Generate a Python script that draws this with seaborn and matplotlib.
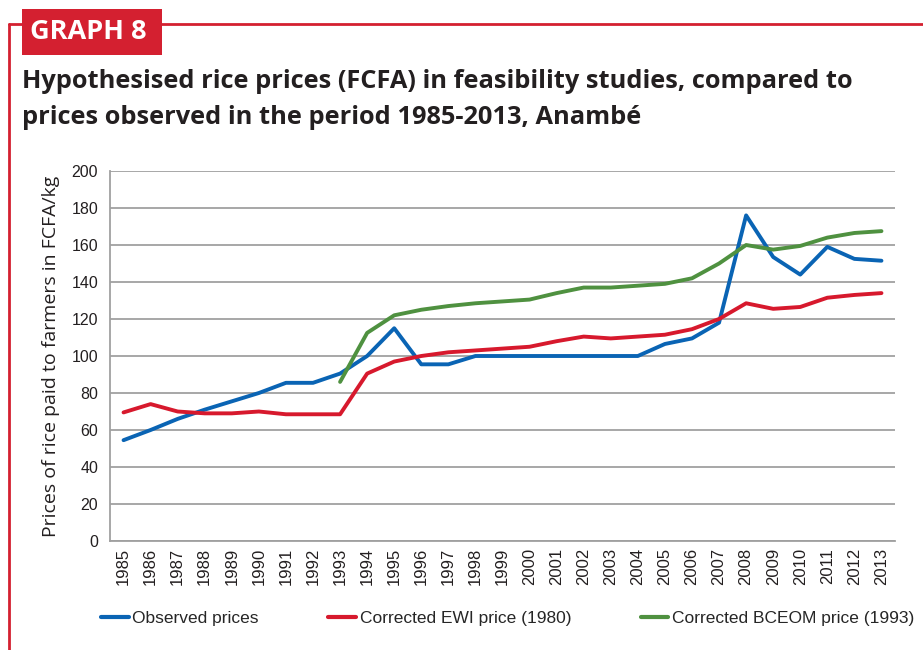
import numpy as np
import pandas as pd
import matplotlib
matplotlib.use("Agg")
import matplotlib.pyplot as plt
import seaborn as sns
from matplotlib.patches import Rectangle
from matplotlib.lines import Line2D

# ----------------------------------------------------
# Data
# ----------------------------------------------------
years = list(range(1985, 2014))

observed = [54.5, 60, 66, 71, 75.5, 80, 85.5, 85.5, 90.5, 100,
            115, 95.5, 95.5, 100, 100, 100, 100, 100, 100, 100,
            106.5, 109.5, 118, 176, 153.5, 144, 159, 152.5, 151.5]

ewi = [69.5, 74, 70, 69, 69, 70, 68.5, 68.5, 68.5, 90.5,
       97, 100, 102, 103, 104, 105, 108, 110.5, 109.5, 110.5,
       111.5, 114.5, 120, 128.5, 125.5, 126.5, 131.5, 133, 134]

bceom = [np.nan] * 8 + [86, 112.5, 122, 125, 127, 128.5, 129.5, 130.5,
                        134, 137, 137, 138, 139, 142, 150, 160, 157.5,
                        159.5, 164, 166.5, 167.5]

series_names = ["Observed prices", "Corrected EWI price (1980)",
                "Corrected BCEOM price (1993)"]
colors = ["#0a64b4", "#d7192d", "#4f9140"]

df = pd.DataFrame({"pos": np.arange(len(years)),
                   series_names[0]: observed,
                   series_names[1]: ewi,
                   series_names[2]: bceom})
long_df = df.melt(id_vars="pos", var_name="series", value_name="price").dropna()

# ----------------------------------------------------
# Plot
# ----------------------------------------------------
sns.set_style("white")
plt.rcParams['font.family'] = ['Open Sans', 'DejaVu Sans']
text_col = "#231f20"
red = "#d42030"

fig = plt.figure(figsize=(9.23, 6.5), dpi=100)
ax = fig.add_axes([110 / 923, 109 / 650, 785 / 923, 370 / 650])

sns.lineplot(data=long_df, x="pos", y="price", hue="series",
             hue_order=series_names, palette=colors, linewidth=2.8,
             legend=False, ax=ax)

ax.set_xlim(-0.5, len(years) - 0.5)
ax.set_ylim(0, 200)
ax.set_yticks(range(0, 201, 20))
ax.yaxis.grid(True, color="#a0a0a0", linewidth=1.3)
ax.set_axisbelow(True)

# category style: tick marks between categories, labels in the middle
ax.set_xticks(np.arange(-0.5, len(years), 1.0))
ax.set_xticklabels([])
ax.set_xticks(np.arange(len(years)), minor=True)
ax.set_xticklabels([str(y) for y in years], minor=True, rotation=90,
                   fontsize=12, color=text_col, family="Liberation Sans")
ax.tick_params(axis="x", which="major", length=5, color="#a0a0a0", width=1.2)
ax.tick_params(axis="x", which="minor", length=0, pad=5)
ax.tick_params(axis="y", length=5, color="#a0a0a0", width=1.2,
               labelsize=11.5, labelcolor=text_col)
for lab in ax.get_yticklabels():
    lab.set_family("Liberation Sans")

for side in ["top", "right"]:
    ax.spines[side].set_visible(False)
for side in ["left", "bottom"]:
    ax.spines[side].set_color("#a0a0a0")
    ax.spines[side].set_linewidth(1.3)

ax.set_xlabel("")
ax.set_ylabel("Prices of rice paid to farmers in FCFA/kg", fontsize=14,
              color=text_col, labelpad=8)

# legend below the plot
handles = [Line2D([0], [0], color=c, linewidth=3) for c in colors]
fig.legend(handles, series_names, loc="center", bbox_to_anchor=(0.55, 0.049),
           ncol=3, frameon=False, handlelength=1.6,
           handletextpad=0.2, columnspacing=4.0,
           prop={"family": ["Liberation Sans Narrow", "Liberation Sans"], "size": 12.5})

# red frame and header box
fig.add_artist(Line2D([9 / 923, 9 / 923], [0, 1 - 24 / 650], color=red,
                      linewidth=2, transform=fig.transFigure))
fig.add_artist(Line2D([9 / 923, 1], [1 - 24 / 650, 1 - 24 / 650], color=red,
                      linewidth=2, transform=fig.transFigure))
fig.add_artist(Rectangle((22 / 923, 1 - 55 / 650), 140 / 923, 46 / 650,
                         facecolor=red, edgecolor="none",
                         transform=fig.transFigure))
fig.text(30 / 923, 1 - 32 / 650, "GRAPH 8", color="white", fontsize=19.5,
         fontweight="bold", va="center", ha="left")

fig.text(22 / 923, 1 - 82 / 650,
         "Hypothesised rice prices (FCFA) in feasibility studies, compared to",
         fontsize=18.3, fontweight="bold", color=text_col, va="center", ha="left")
fig.text(22 / 923, 1 - 118 / 650,
         "prices observed in the period 1985-2013, Anambé",
         fontsize=18.3, fontweight="bold", color=text_col, va="center", ha="left")

fig.savefig("out.png", dpi=100)
